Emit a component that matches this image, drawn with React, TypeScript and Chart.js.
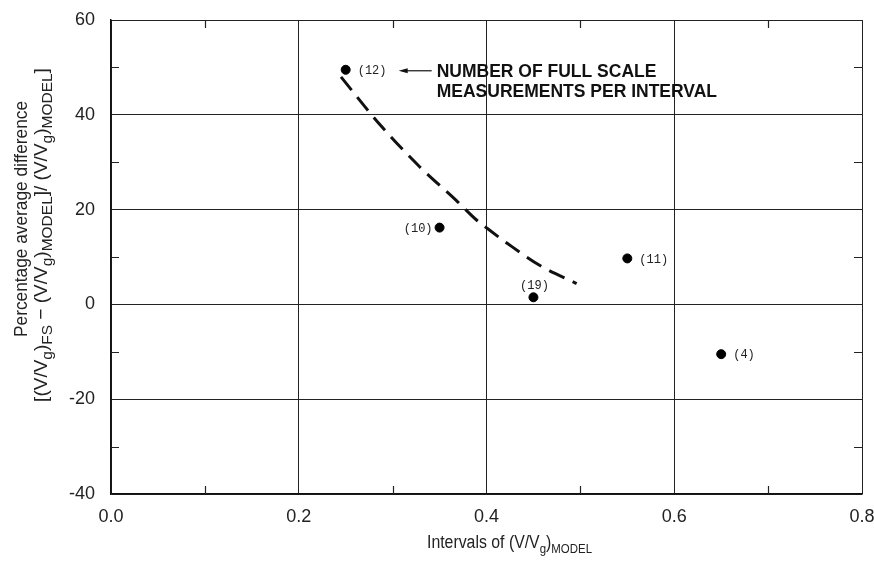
import React, { useEffect, useRef } from "react";
import { Chart, registerables } from "chart.js";

Chart.register(...registerables);

// ---- data ----
const pointX = [0.25, 0.35, 0.45, 0.55, 0.65];
const pointY = [49.5, 16.2, 1.5, 9.7, -10.5];
const pointCounts = ["12", "10", "19", "11", "4"];
const labelSide = ["right", "left", "top", "right", "right"];

const curveX = [0.245, 0.284, 0.329, 0.368, 0.39, 0.401, 0.422, 0.457, 0.496];
const curveY = [48.0, 38.5, 29.0, 21.9, 17.7, 16.0, 12.9, 8.2, 4.4];

const xTicks = [0, 0.2, 0.4, 0.6, 0.8];
const yTicks = [-40, -20, 0, 20, 40, 60];
const xMinor = [0.1, 0.3, 0.5, 0.7];
const yMinor = [-30, -10, 10, 30, 50];

const annotationLines = ["NUMBER OF FULL SCALE", "MEASUREMENTS PER INTERVAL"];

type Seg = { t: string; sub?: boolean };
const xTitle: Seg[] = [
  { t: "Intervals of (V/V" },
  { t: "g", sub: true },
  { t: ")" },
  { t: "MODEL", sub: true },
];
const yTitle1: Seg[] = [{ t: "Percentage average difference" }];
const yTitle2: Seg[] = [
  { t: "[(V/V" },
  { t: "g", sub: true },
  { t: ")" },
  { t: "FS", sub: true },
  { t: " \u2212 (V/V" },
  { t: "g", sub: true },
  { t: ")" },
  { t: "MODEL", sub: true },
  { t: "]/ (V/V" },
  { t: "g", sub: true },
  { t: ")" },
  { t: "MODEL", sub: true },
  { t: "]" },
];

const FONT = '"Liberation Sans", Arial, sans-serif';

function drawRich(
  ctx: CanvasRenderingContext2D,
  segs: Seg[],
  x: number,
  y: number,
  size: number,
  subSize: number,
  align: "left" | "center",
  stretch = 1
) {
  let w = 0;
  for (const s of segs) {
    ctx.font = `${s.sub ? subSize : size}px ${FONT}`;
    w += ctx.measureText(s.t).width;
  }
  ctx.save();
  ctx.translate(x, y);
  ctx.scale(stretch, 1);
  let cx = align === "center" ? -w / 2 : 0;
  ctx.textAlign = "left";
  ctx.textBaseline = "alphabetic";
  for (const s of segs) {
    ctx.font = `${s.sub ? subSize : size}px ${FONT}`;
    ctx.fillText(s.t, cx, s.sub ? size * 0.28 : 0);
    cx += ctx.measureText(s.t).width;
  }
  ctx.restore();
}

const decorPlugin = {
  id: "decor",
  afterDraw(chart: any) {
    const ctx: CanvasRenderingContext2D = chart.ctx;
    const xs = chart.scales.x;
    const ys = chart.scales.y;
    const area = chart.chartArea;
    ctx.save();

    // minor ticks
    ctx.strokeStyle = "#222";
    ctx.lineWidth = 1.2;
    const tl = 8;
    ctx.beginPath();
    for (const v of xMinor) {
      const px = Math.round(xs.getPixelForValue(v)) + 0.5;
      ctx.moveTo(px, area.bottom);
      ctx.lineTo(px, area.bottom - tl);
      ctx.moveTo(px, area.top);
      ctx.lineTo(px, area.top + tl);
    }
    for (const v of yMinor) {
      const py = Math.round(ys.getPixelForValue(v)) + 0.5;
      ctx.moveTo(area.left, py);
      ctx.lineTo(area.left + tl, py);
      ctx.moveTo(area.right, py);
      ctx.lineTo(area.right - tl, py);
    }
    ctx.stroke();

    // point labels
    ctx.fillStyle = "#222";
    ctx.font = `12px "Liberation Mono", "DejaVu Sans Mono", monospace`;
    ctx.textBaseline = "middle";
    pointX.forEach((vx, i) => {
      const px = xs.getPixelForValue(vx);
      const py = ys.getPixelForValue(pointY[i]);
      const txt = `(${pointCounts[i]})`;
      const side = labelSide[i];
      if (side === "right") {
        ctx.textAlign = "left";
        ctx.fillText(txt, px + 12, py + 1);
      } else if (side === "left") {
        ctx.textAlign = "right";
        ctx.fillText(txt, px - 7, py + 1);
      } else {
        ctx.textAlign = "center";
        ctx.fillText(txt, px + 1, py - 11);
      }
    });

    // annotation arrow + text
    const ax = xs.getPixelForValue(pointX[0]);
    const ay = ys.getPixelForValue(pointY[0]) + 1;
    ctx.strokeStyle = "#111";
    ctx.lineWidth = 1.2;
    ctx.beginPath();
    ctx.moveTo(ax + 57, ay);
    ctx.lineTo(ax + 86, ay);
    ctx.stroke();
    ctx.fillStyle = "#111";
    ctx.beginPath();
    ctx.moveTo(ax + 53, ay);
    ctx.lineTo(ax + 62, ay - 2.5);
    ctx.lineTo(ax + 62, ay + 2.5);
    ctx.closePath();
    ctx.fill();

    ctx.font = `bold 17.5px ${FONT}`;
    ctx.textAlign = "left";
    ctx.textBaseline = "alphabetic";
    ctx.fillText(annotationLines[0], ax + 91, ay + 6);
    ctx.fillText(annotationLines[1], ax + 91, ay + 26);

    // axis titles
    ctx.fillStyle = "#222";
    drawRich(ctx, xTitle, 427, 548, 18, 13, "left", 0.88);

    ctx.save();
    ctx.translate(27, 219);
    ctx.rotate(-Math.PI / 2);
    drawRich(ctx, yTitle1, 0, 0, 18, 13, "center", 0.96);
    ctx.restore();

    ctx.save();
    ctx.translate(47, 235);
    ctx.rotate(-Math.PI / 2);
    drawRich(ctx, yTitle2, 0, 0, 19, 15.5, "center", 1);
    ctx.restore();

    ctx.restore();
  },
};

function zeroPad(s: any) {
  s.paddingLeft = 0;
  s.paddingRight = 0;
  s.paddingTop = 0;
  s.paddingBottom = 0;
}

export default function App() {
  const ref = useRef<HTMLCanvasElement | null>(null);

  useEffect(() => {
    if (!ref.current) return;
    const chart = new Chart(ref.current, {
      type: "scatter",
      data: {
        datasets: [
          {
            data: pointX.map((x, i) => ({ x, y: pointY[i] })),
            backgroundColor: "#000",
            borderColor: "#000",
            pointRadius: 4.5,
            pointHoverRadius: 4.5,
            order: 0,
          },
          {
            data: curveX.map((x, i) => ({ x, y: curveY[i] })),
            showLine: true,
            borderColor: "#111",
            borderWidth: 3,
            borderDash: [17, 9],
            pointRadius: 0,
            cubicInterpolationMode: "monotone",
            order: 1,
          } as any,
        ],
      },
      options: {
        responsive: false,
        animation: false,
        events: [],
        layout: { padding: { left: 0, right: 12, top: 20, bottom: 0 } },
        plugins: { legend: { display: false }, tooltip: { enabled: false } },
        scales: {
          x: {
            type: "linear",
            min: 0,
            max: 0.8,
            afterBuildTicks: (s: any) => {
              s.ticks = xTicks.map((v) => ({ value: v }));
            },
            afterFit: (s: any) => {
              s.height = 68;
              zeroPad(s);
            },
            ticks: {
              padding: 12,
              color: "#222",
              font: { family: FONT, size: 18 },
              callback: (v: any) => Number(v).toFixed(1),
              maxRotation: 0,
            },
            grid: { color: "#222", lineWidth: 1, drawTicks: false },
            border: { display: true, color: "#111", width: 1.5 },
          },
          y: {
            type: "linear",
            min: -40,
            max: 60,
            afterBuildTicks: (s: any) => {
              s.ticks = yTicks.map((v) => ({ value: v }));
            },
            afterFit: (s: any) => {
              s.width = 111;
              zeroPad(s);
            },
            ticks: {
              padding: 16,
              color: "#222",
              font: { family: FONT, size: 18 },
              callback: (v: any) => String(v),
            },
            grid: { color: "#222", lineWidth: 1, drawTicks: false },
            border: { display: true, color: "#111", width: 1.5 },
          },
        },
      },
      plugins: [decorPlugin],
    });
    return () => chart.destroy();
  }, []);

  return (
    <div style={{ position: "fixed", left: 0, top: 0, width: 874, height: 562, background: "#fff" }}>
      <canvas ref={ref} width={874} height={562} style={{ display: "block" }} />
    </div>
  );
}
